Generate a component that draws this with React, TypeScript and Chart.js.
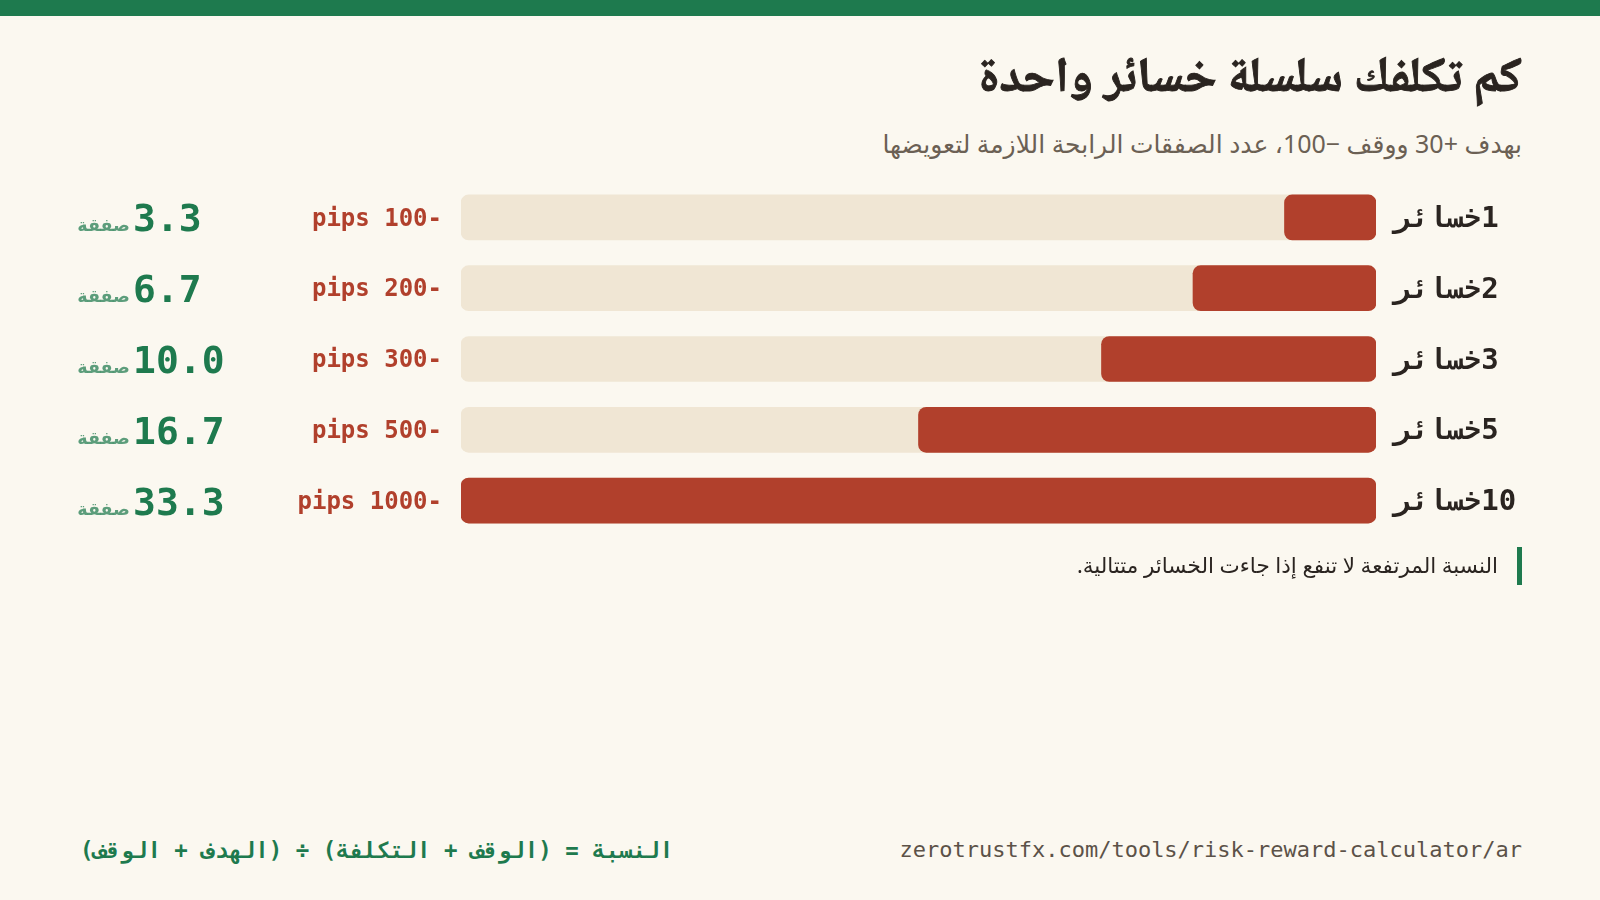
import React, { useEffect, useRef } from 'react';
import { Chart, registerables } from 'chart.js';

Chart.register(...registerables);

// chart data
const LOSSES = [1, 2, 3, 5, 10];
const PIPS_LOST = [100, 200, 300, 500, 1000];
const TRADES_NEEDED = ['3.3', '6.7', '10.0', '16.7', '33.3'];
const TRACK_MAX = 1000;

const GREEN = '#1e7a4e';
const RED = '#b1402c';
const TRACK = '#f0e6d4';
const BG = '#fbf8f0';
const INK = '#2a2420';
const MONO = '"DejaVu Sans Mono", monospace';
const SANS = '"Noto Sans", "DejaVu Sans", sans-serif';

const rowLabels = {
  id: 'rowLabels',
  afterDatasetsDraw(chart: Chart) {
    const { ctx, chartArea } = chart;
    const yScale = chart.scales.y;
    ctx.save();
    ctx.direction = 'rtl';
    LOSSES.forEach((n, i) => {
      const y = yScale.getPixelForValue(i);
      // right label: number of losses
      ctx.font = `bold 29px ${MONO}`;
      ctx.fillStyle = INK;
      ctx.textAlign = 'left';
      ctx.textBaseline = 'middle';
      ctx.fillText(`${n}خسائر`, chartArea.right + 18, y + 2);

      // pips lost
      ctx.font = `bold 24px ${MONO}`;
      ctx.fillStyle = RED;
      ctx.textAlign = 'right';
      ctx.fillText(`-${PIPS_LOST[i]} pips`, chartArea.left - 19, y + 2);

      // trades needed
      ctx.textBaseline = 'alphabetic';
      ctx.font = `bold 38px ${MONO}`;
      ctx.fillStyle = GREEN;
      ctx.textAlign = 'left';
      ctx.fillText(TRADES_NEEDED[i], 133, y + 14);
      ctx.font = `600 17.5px ${SANS}`;
      ctx.fillStyle = 'rgba(30,122,78,0.72)';
      ctx.textAlign = 'right';
      ctx.fillText('صفقة', 130, y + 14);
    });
    ctx.restore();
  },
};

function LossChart() {
  const canvasRef = useRef<HTMLCanvasElement | null>(null);

  useEffect(() => {
    if (!canvasRef.current) return;
    const chart = new Chart(canvasRef.current, {
      type: 'bar',
      data: {
        labels: LOSSES.map(String),
        datasets: [
          {
            label: 'pips',
            data: PIPS_LOST,
            backgroundColor: RED,
            borderRadius: 8,
            borderSkipped: false,
            barThickness: 45,
            grouped: false,
          },
          {
            label: 'track',
            data: LOSSES.map(() => TRACK_MAX),
            backgroundColor: TRACK,
            borderRadius: 8,
            borderSkipped: false,
            barThickness: 45,
            grouped: false,
          },
        ],
      },
      options: {
        indexAxis: 'y',
        animation: false,
        responsive: false,
        maintainAspectRatio: false,
        layout: { padding: { top: 12, bottom: 14, left: 461, right: 224 } },
        scales: {
          x: { reverse: true, min: 0, max: TRACK_MAX, display: false },
          y: { display: false },
        },
        plugins: { legend: { display: false }, tooltip: { enabled: false } },
      },
      plugins: [rowLabels],
    });
    return () => chart.destroy();
  }, []);

  return <canvas ref={canvasRef} width={1600} height={380} style={{ position: 'absolute', left: 0, top: 170 }} />;
}

export default function App() {
  useEffect(() => {
    document.body.style.margin = '0';
  }, []);
  return (
    <div style={{ position: 'absolute', left: 0, top: 0, width: 1600, height: 900, background: BG, overflow: 'hidden' }}>
      <div style={{ position: 'absolute', left: 0, top: 0, width: 1600, height: 16, background: GREEN }} />
      <div dir="rtl" style={{ position: 'absolute', right: 78, top: 49, fontFamily: '"Noto Naskh Arabic", serif', fontWeight: 700, fontSize: 49, color: INK, WebkitTextStroke: `0.9px ${INK}`, lineHeight: '64px', whiteSpace: 'nowrap' }}>
        كم تكلفك سلسلة خسائر واحدة
      </div>
      <div dir="rtl" style={{ position: 'absolute', right: 78, top: 125, fontFamily: SANS, fontSize: 25, color: '#6b6054', lineHeight: '36px', whiteSpace: 'nowrap' }}>
        بهدف +30 ووقف −100، عدد الصفقات الرابحة اللازمة لتعويضها
      </div>
      <LossChart />
      <div dir="rtl" style={{ position: 'absolute', right: 78, top: 547, height: 38, borderRight: `5px solid ${GREEN}`, paddingRight: 19, fontFamily: SANS, fontSize: 21.5, color: INK, lineHeight: '36px', whiteSpace: 'nowrap' }}>
        النسبة المرتفعة لا تنفع إذا جاءت الخسائر متتالية.
      </div>
      <div dir="rtl" style={{ position: 'absolute', left: 80, top: 834, fontFamily: MONO, fontWeight: 700, fontSize: 22.4, color: GREEN, lineHeight: '32px', whiteSpace: 'nowrap' }}>
        النسبة = (الوقف + التكلفة) ÷ (الهدف + الوقف)
      </div>
      <div style={{ position: 'absolute', right: 78, top: 834, fontFamily: MONO, fontSize: 22, color: '#5c5248', lineHeight: '32px', whiteSpace: 'nowrap' }}>
        zerotrustfx.com/tools/risk-reward-calculator/ar
      </div>
    </div>
  );
}
